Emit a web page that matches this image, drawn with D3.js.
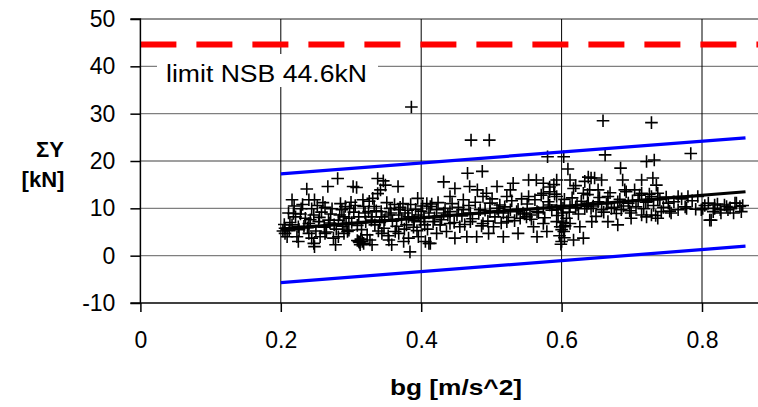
<!DOCTYPE html>
<html><head><meta charset="utf-8">
<script src="https://cdn.jsdelivr.net/npm/d3@7"></script>
<style>
body{margin:0;background:#fff;}
svg{display:block;font-family:"Liberation Sans",Arial,sans-serif;}
</style></head>
<body><svg id="chart" width="758" height="407"></svg>
<script>
const xTicks = [0, 0.2, 0.4, 0.6, 0.8];
const xTickLabels = ["0", "0.2", "0.4", "0.6", "0.8"];
const yTicks = [-10, 0, 10, 20, 30, 40, 50];
const yTickLabels = ["-10", "0", "10", "20", "30", "40", "50"];
const limitValue = 44.6;
const limitLabel = "limit NSB 44.6kN";
const lineX = [0.2, 0.862];
const upperBound = [17.3, 24.9];
const fitLine = [5.6, 13.5];
const lowerBound = [-5.7, 2.0];
const xTitle = "bg [m/s^2]";
const yTitle = ["\u03A3Y", "[kN]"];
const points = [
[0.386,31.4],[0.281,16.3],[0.267,14.6],[0.303,14.6],[0.308,14.4],[0.237,14.1],[0.338,16.3],[0.346,15.8],[0.349,14.9],[0.367,14.6],
[0.342,13.9],[0.338,13.1],[0.331,12.1],[0.216,11.8],[0.240,11.8],[0.248,11.8],[0.300,11.3],[0.317,11.8],[0.395,12.1],[0.229,9.9],
[0.244,9.9],[0.263,10.2],[0.211,9.0],[0.221,8.2],[0.235,7.9],[0.247,8.6],[0.287,9.7],[0.290,8.2],[0.318,10.4],[0.325,9.3],
[0.356,10.0],[0.368,9.7],[0.377,9.0],[0.387,8.2],
[0.206,5.8],[0.216,6.5],[0.225,6.1],[0.240,6.8],[0.254,7.2],[0.268,7.5],[0.282,7.5],[0.297,7.9],[0.311,8.2],[0.330,8.2],
[0.344,8.2],[0.354,8.6],[0.368,8.6],[0.382,8.2],[0.396,8.6],[0.411,9.0],
[0.206,4.7],[0.209,4.0],[0.223,4.0],[0.225,3.0],[0.240,4.7],[0.244,3.7],[0.247,2.6],[0.248,1.9],[0.256,4.0],[0.263,4.7],
[0.275,3.7],[0.278,2.3],[0.282,4.0],[0.290,4.7],[0.297,5.4],[0.311,3.0],[0.313,2.3],[0.318,2.6],[0.327,3.3],[0.330,2.3],
[0.344,4.7],[0.354,3.3],[0.358,2.3],[0.368,4.7],[0.375,3.0],[0.382,3.7],[0.384,0.8],[0.396,4.0],[0.406,3.0],[0.411,2.6],
[0.203,5.2],[0.213,7.0],[0.219,10.5],[0.228,8.8],[0.233,6.2],[0.252,10.6],[0.258,9.2],[0.262,6.0],[0.271,8.8],[0.276,6.5],
[0.285,11.0],[0.293,6.8],[0.298,10.0],[0.304,9.2],[0.309,6.4],[0.315,5.5],[0.321,7.2],[0.326,11.5],[0.334,6.5],[0.336,9.5],
[0.341,7.0],[0.347,5.8],[0.351,11.2],[0.359,7.3],[0.362,10.8],[0.365,6.2],[0.372,7.8],[0.374,11.0],[0.379,6.5],[0.385,10.8],
[0.389,6.0],[0.392,9.8],[0.399,7.2],[0.402,10.5],[0.405,6.5],[0.408,11.0],
[0.309,3.2],[0.312,2.8],[0.314,3.5],[0.316,3.0],
[0.205,6.6],[0.212,5.3],[0.218,8.9],[0.226,5.5],[0.231,10.8],[0.238,5.9],[0.242,7.6],[0.250,5.2],[0.255,8.1],[0.260,11.2],
[0.265,5.0],[0.270,6.9],[0.273,9.9],[0.279,5.6],[0.284,8.6],[0.288,6.2],[0.292,10.4],[0.295,5.1],[0.301,7.0],[0.306,10.6],
[0.320,9.0],[0.323,4.4],[0.329,7.5],[0.333,10.4],[0.339,5.2],[0.343,9.3],[0.348,7.6],[0.353,4.2],[0.357,9.0],[0.363,5.1],
[0.370,10.2],[0.376,5.6],[0.381,9.6],[0.390,7.4],[0.394,5.3],[0.400,9.4],[0.404,8.0],[0.409,5.6],
[0.471,24.4],[0.497,24.4],[0.580,20.9],[0.603,20.9],[0.609,18.3],[0.466,17.4],[0.487,17.8],[0.432,15.6],[0.448,14.2],[0.469,14.6],
[0.480,13.9],[0.508,14.6],[0.531,15.3],[0.527,13.9],[0.522,12.5],[0.553,16.0],[0.564,16.0],[0.574,15.3],[0.593,16.0],[0.612,16.0],
[0.638,16.6],[0.553,12.5],[0.574,13.2],[0.583,13.5],[0.593,12.5],[0.617,14.2],[0.631,13.2],[0.441,12.5],[0.460,11.8],[0.488,12.5],
[0.498,11.1],[0.512,10.7],[0.493,13.2],
[0.413,10.4],[0.422,9.7],[0.432,9.0],[0.441,9.3],[0.451,8.6],[0.460,9.7],[0.470,9.0],[0.484,9.7],[0.498,9.3],[0.508,10.0],
[0.517,9.0],[0.527,9.7],[0.536,9.3],[0.545,9.0],[0.555,8.6],[0.565,9.3],[0.574,10.0],[0.583,10.7],[0.593,9.7],[0.602,10.0],
[0.612,10.4],[0.622,10.7],[0.636,10.4],
[0.417,7.2],[0.427,6.5],[0.441,6.8],[0.455,6.1],[0.470,7.2],[0.488,6.8],[0.503,6.1],[0.522,7.2],[0.541,7.9],[0.550,8.2],
[0.560,6.1],[0.574,6.8],[0.593,7.2],[0.602,6.1],[0.612,6.8],[0.626,6.1],
[0.422,4.7],[0.436,5.1],[0.448,3.7],[0.465,4.0],[0.479,4.0],[0.496,4.7],[0.517,4.0],[0.538,4.7],[0.565,4.0],[0.579,5.1],
[0.600,3.0],[0.617,3.3],[0.631,3.7],[0.413,2.6],[0.598,6.1],[0.603,5.1],
[0.659,28.5],[0.728,28.1],[0.662,21.3],[0.784,21.6],[0.721,19.9],[0.732,20.2],[0.684,18.5],[0.687,16.0],[0.714,16.0],[0.730,16.4],
[0.735,14.9],[0.647,16.4],[0.657,16.0],[0.642,16.4],[0.640,13.9],[0.652,13.9],[0.666,12.5],[0.690,13.9],[0.704,13.9],[0.714,13.2],
[0.728,12.5],[0.737,13.2],
[0.638,11.1],[0.652,11.4],[0.666,11.1],[0.680,11.4],[0.695,11.1],[0.709,11.8],[0.723,11.4],[0.737,11.8],[0.752,11.1],[0.766,12.5],
[0.780,12.5],[0.794,12.5],[0.809,11.1],[0.818,10.7],[0.832,10.7],[0.847,11.1],[0.854,10.4],
[0.642,10.0],[0.657,9.7],[0.671,10.0],[0.685,9.7],[0.699,9.0],[0.714,8.6],[0.728,8.6],[0.742,9.3],[0.756,9.0],[0.766,9.7],
[0.778,10.0],[0.799,9.7],[0.827,9.0],[0.856,9.3],[0.837,9.7],[0.643,7.2],[0.666,7.2],[0.680,6.5],[0.699,7.9],[0.721,8.2],
[0.737,7.9],[0.813,7.5],[0.818,10.0],[0.801,10.0],
[0.811,7.5],[0.826,9.7],[0.835,10.4],[0.849,11.1],
[0.415,10.9],[0.419,8.0],[0.424,11.2],[0.429,7.6],[0.434,10.0],[0.438,8.6],[0.444,11.0],[0.447,7.0],[0.453,10.2],[0.458,8.4],
[0.462,6.6],[0.468,10.6],[0.473,7.8],[0.477,11.3],[0.482,8.9],[0.486,6.3],[0.491,9.6],[0.495,7.3],[0.501,12.0],[0.505,8.2],
[0.510,9.4],[0.514,6.9],[0.519,10.3],[0.524,8.1],[0.529,11.6],[0.533,7.4],[0.538,9.8],[0.543,12.0],[0.547,8.8],[0.551,10.9],
[0.557,7.7],[0.562,11.8],[0.567,9.1],[0.571,12.8],[0.576,8.0],[0.581,11.4],[0.586,9.6],[0.590,13.0],[0.595,8.5],[0.599,10.6],
[0.604,11.9],[0.607,7.9],[0.611,9.2],[0.615,12.2],[0.620,10.1],[0.624,8.8],[0.628,11.5],[0.633,9.9],[0.637,12.9],[0.645,10.5],
[0.649,8.3],[0.654,12.3],[0.660,9.2],[0.664,11.0],[0.669,13.3],[0.675,10.2],[0.678,8.9],[0.683,11.9],[0.688,10.5],[0.692,13.5],
[0.697,9.5],[0.701,11.6],[0.706,10.3],[0.711,12.8],[0.717,9.9],[0.720,11.3],[0.725,13.0],[0.731,10.6],[0.734,8.5],[0.740,11.9],
[0.745,10.2],[0.749,12.4],[0.754,9.4],[0.760,11.4],[0.771,12.0],[0.776,10.3],[0.786,11.6],[0.791,9.8],[0.804,10.6],[0.816,9.3],
[0.822,10.9],[0.840,10.1],[0.845,9.0],[0.858,10.6],
[0.597,4.2],[0.600,5.5],[0.602,7.0],[0.604,3.8],[0.601,9.0],[0.599,2.4],[0.605,6.3],
[0.583,14.5],[0.589,15.0],[0.620,14.8],[0.633,15.7]
];

const FONT = "Liberation Sans, Arial, sans-serif";
const svg = d3.select("#chart");
const x = d3.scaleLinear().domain([0, 0.88]).range([140.4, 140.4 + 0.88 * 702]);
const y = d3.scaleLinear().domain([-10, 50]).range([303, 19]);
const xLeft = x(0), xRight = 758;

// horizontal gridlines
svg.append("g").selectAll("line").data(yTicks.filter(d => d > -10)).join("line")
  .attr("x1", xLeft).attr("x2", xRight)
  .attr("y1", d => y(d)).attr("y2", d => y(d))
  .attr("stroke", d => d === 50 ? "#222" : "#7f7f7f")
  .attr("stroke-width", d => d === 50 ? 1 : 1.4);

// vertical gridlines
svg.append("g").selectAll("line").data(xTicks.filter(d => d > 0)).join("line")
  .attr("x1", d => x(d)).attr("x2", d => x(d))
  .attr("y1", y(50)).attr("y2", y(-10))
  .attr("stroke", "#000").attr("stroke-width", 1);

// label box with white background
const labelG = svg.append("g");
labelG.append("rect").attr("x", 157).attr("y", 54).attr("width", 221).attr("height", 33).attr("fill", "#fff");
labelG.append("text").attr("x", 166).attr("y", 82).attr("font-size", 23).attr("fill", "#000")
  .attr("textLength", 201).attr("lengthAdjust", "spacingAndGlyphs").text(limitLabel);

// red dashed limit line
svg.append("line").attr("x1", xLeft).attr("x2", xRight)
  .attr("y1", y(limitValue)).attr("y2", y(limitValue))
  .attr("stroke", "#ff0000").attr("stroke-width", 6).attr("stroke-dasharray", "36,20");

// points as '+'
const s = 6.3;
svg.append("g").selectAll("path").data(points).join("path")
  .attr("d", d => { const px = x(d[0]), py = y(d[1]);
    return `M${px - s},${py}H${px + s}M${px},${py - s}V${py + s}`; })
  .attr("stroke", "#000").attr("stroke-width", 1.6).attr("fill", "none");

// regression and bounds
const lineGen = d3.line().x(d => x(d[0])).y(d => y(d[1]));
[[upperBound, "#0000ff", 3.2], [lowerBound, "#0000ff", 3.2], [fitLine, "#000", 3.2]].forEach(([vals, col, w]) => {
  svg.append("path").datum(lineX.map((xv, i) => [xv, vals[i]]))
    .attr("d", lineGen).attr("stroke", col).attr("stroke-width", w).attr("fill", "none");
});

// axes
const yAxis = d3.axisLeft(y).tickValues(yTicks).tickFormat((d, i) => yTickLabels[i]).tickSize(10).tickPadding(15);
const yg = svg.append("g").attr("transform", `translate(${xLeft},0)`).call(yAxis);
yg.select(".domain").attr("stroke", "#000").attr("stroke-width", 1.5).attr("d", `M-10,${y(50)}H0V${y(-10)}H-10`);
yg.selectAll(".tick line").attr("stroke", "#000").attr("stroke-width", 1.5);
yg.selectAll("text").attr("font-size", 23).attr("font-family", FONT).attr("fill", "#000");

const xAxis = d3.axisBottom(x).tickValues(xTicks).tickFormat((d, i) => xTickLabels[i]).tickSize(9).tickPadding(20);
const xg = svg.append("g").attr("transform", `translate(0,${y(-10)})`).call(xAxis);
xg.select(".domain").attr("stroke", "#000").attr("stroke-width", 1.5).attr("d", `M${xLeft},0H${xRight}`);
xg.selectAll(".tick line").attr("stroke", "#000").attr("stroke-width", 1.5);
xg.selectAll("text").attr("font-size", 23).attr("font-family", FONT).attr("fill", "#000");

// titles
svg.append("text").attr("x", 456).attr("y", 395).attr("text-anchor", "middle")
  .attr("font-size", 22).attr("font-weight", "bold")
  .attr("textLength", 132).attr("lengthAdjust", "spacingAndGlyphs").text(xTitle);
svg.append("text").attr("x", 50).attr("y", 157).attr("text-anchor", "middle")
  .attr("font-size", 22).attr("font-weight", "bold").text(yTitle[0]);
svg.append("text").attr("x", 43).attr("y", 187).attr("text-anchor", "middle")
  .attr("font-size", 22).attr("font-weight", "bold").text(yTitle[1]);
</script></body></html>
